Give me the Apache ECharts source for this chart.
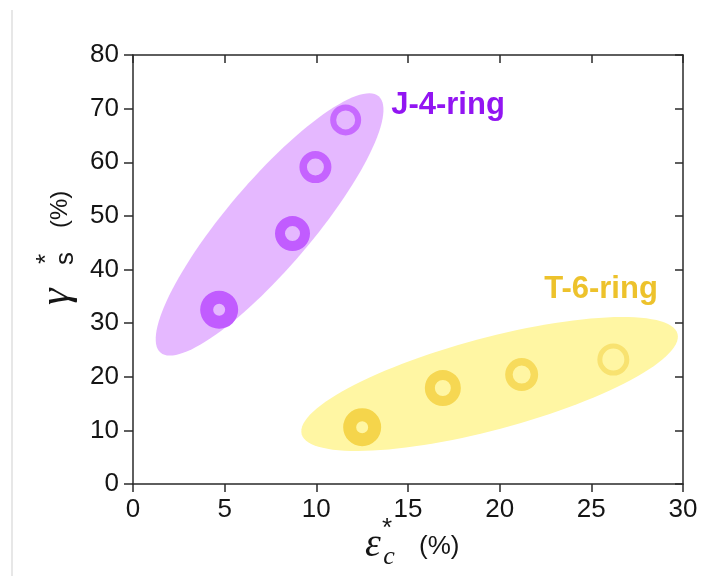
<!DOCTYPE html>
<html><head><meta charset="utf-8">
<script src="https://cdn.jsdelivr.net/npm/echarts@6/dist/echarts.min.js"></script>
<style>html,body{margin:0;padding:0;background:#fff}#c{width:711px;height:576px}</style>
</head><body><div id="c"></div>
<script>
// ---- data ----
const xTicks = [0, 5, 10, 15, 20, 25, 30];
const yTicks = [0, 10, 20, 30, 40, 50, 60, 70, 80];
const j4X = [4.7, 8.7, 9.95, 11.6];
const j4Y = [32.5, 46.7, 59.1, 67.9];
const t6X = [12.5, 16.9, 21.2, 26.2];
const t6Y = [10.6, 17.9, 20.4, 23.2];
const groupNames = ['J-4-ring', 'T-6-ring'];
// envelope ellipses: long-axis end points (data units)
const j4EnvX = [1.5, 13.4];
const j4EnvY = [24.5, 72.3];
const t6EnvX = [9.2, 29.7];
const t6EnvY = [9.3, 28.0];

// ---- styles ----
const purpleRing = {outer: [19, 17.5, 16, 15.5], inner: [6, 7.5, 8.5, 9.5], color: ['#c15cff', '#c15cff', '#c563ff', '#c76aff']};
const yellowRing = {outer: [19, 18, 16.5, 16], inner: [6, 8, 9, 11], color: ['#f5d54b', '#f6d752', '#f7db5c', '#f8e270']};

function ellipseItem(halfW, color) {
  return function (params, api) {
    const p0 = api.coord([api.value(0), api.value(1)]);
    const p1 = api.coord([api.value(2), api.value(3)]);
    const cx = (p0[0] + p1[0]) / 2, cy = (p0[1] + p1[1]) / 2;
    const dx = p1[0] - p0[0], dy = p1[1] - p0[1];
    const len = Math.hypot(dx, dy);
    const L = len / 2, ux = dx / len, uy = dy / len;
    const pts = [];
    for (let i = 0; i < 120; i++) {
      const t = i / 120 * Math.PI * 2;
      const a = L * Math.cos(t), b = halfW * Math.sin(t);
      pts.push([cx + a * ux - b * uy, cy + a * uy + b * ux]);
    }
    return {type: 'polygon', shape: {points: pts}, style: {fill: color}};
  };
}
function ringItem(st) {
  return function (params, api) {
    const p = api.coord([api.value(0), api.value(1)]);
    const i = params.dataIndex;
    return {type: 'ring', shape: {cx: p[0], cy: p[1], r: st.outer[i], r0: st.inner[i]}, style: {fill: st.color[i]}};
  };
}

const axisLineStyle = {color: '#2a2a2a', width: 1.5};
const labelFont = {fontFamily: 'Liberation Sans', fontSize: 26, color: '#151515'};

const chart = echarts.init(document.getElementById('c'), null, {renderer: 'canvas'});
chart.setOption({
  backgroundColor: '#ffffff',
  animation: false,
  grid: {left: 133, right: 28, top: 55, bottom: 92},
  xAxis: [
    {type: 'value', position: 'bottom', min: xTicks[0], max: xTicks[xTicks.length - 1], interval: 5,
     axisLine: {show: true, onZero: false, lineStyle: axisLineStyle}, axisTick: {show: true, length: 8, lineStyle: axisLineStyle},
     axisLabel: Object.assign({margin: 13}, labelFont), splitLine: {show: false}},
    {type: 'value', position: 'top', min: xTicks[0], max: xTicks[xTicks.length - 1], interval: 5,
     axisLine: {show: true, onZero: false, lineStyle: axisLineStyle}, axisTick: {show: true, inside: true, length: 8, lineStyle: axisLineStyle},
     axisLabel: {show: false}, splitLine: {show: false}}
  ],
  yAxis: [
    {type: 'value', position: 'left', min: yTicks[0], max: yTicks[yTicks.length - 1], interval: 10,
     axisLine: {show: true, onZero: false, lineStyle: axisLineStyle}, axisTick: {show: true, length: 9, lineStyle: axisLineStyle},
     axisLabel: Object.assign({margin: 14}, labelFont), splitLine: {show: false}},
    {type: 'value', position: 'right', min: yTicks[0], max: yTicks[yTicks.length - 1], interval: 10,
     axisLine: {show: true, onZero: false, lineStyle: axisLineStyle}, axisTick: {show: true, inside: true, length: 8, lineStyle: axisLineStyle},
     axisLabel: {show: false}, splitLine: {show: false}}
  ],
  series: [
    {type: 'custom', name: groupNames[0] + ' envelope', renderItem: ellipseItem(43, '#e5b8ff'), silent: true, z: 1,
     data: [[j4EnvX[0], j4EnvY[0], j4EnvX[1], j4EnvY[1]]]},
    {type: 'custom', name: groupNames[1] + ' envelope', renderItem: ellipseItem(46, '#fff6a3'), silent: true, z: 1,
     data: [[t6EnvX[0], t6EnvY[0], t6EnvX[1], t6EnvY[1]]]},
    {type: 'custom', name: groupNames[0], renderItem: ringItem(purpleRing), z: 2,
     data: j4X.map((x, i) => [x, j4Y[i]])},
    {type: 'custom', name: groupNames[1], renderItem: ringItem(yellowRing), z: 2,
     data: t6X.map((x, i) => [x, t6Y[i]])}
  ],
  graphic: [
    {type: 'line', shape: {x1: 12, y1: 10, x2: 12, y2: 576}, style: {stroke: '#cfcfcf', lineWidth: 1}, silent: true},
    {type: 'text', x: 448, y: 105, style: {text: groupNames[0], font: 'bold 31px "Liberation Sans"', fill: '#9215f2', textAlign: 'center', textVerticalAlign: 'middle'}},
    {type: 'text', x: 601, y: 289, style: {text: groupNames[1], font: 'bold 31px "Liberation Sans"', fill: '#edc22c', textAlign: 'center', textVerticalAlign: 'middle'}},
    // x-axis title
    {type: 'text', x: 373, y: 545, style: {text: 'ε', font: 'italic 40px "Liberation Serif"', fill: '#151515', textAlign: 'center', textVerticalAlign: 'middle'}},
    {type: 'text', x: 389, y: 557, style: {text: 'c', font: 'italic 26px "Liberation Serif"', fill: '#151515', textAlign: 'center', textVerticalAlign: 'middle'}},
    {type: 'text', x: 387, y: 529, style: {text: '*', font: '26px "Liberation Sans"', fill: '#151515', textAlign: 'center', textVerticalAlign: 'middle'}},
    {type: 'text', x: 419, y: 547, style: {text: '(%)', font: '26px "Liberation Sans"', fill: '#151515', textAlign: 'left', textVerticalAlign: 'middle'}},
    // y-axis title (rotated)
    {type: 'group', x: 57, y: 305, rotation: Math.PI / 2, children: [
      {type: 'text', x: 0, y: 0, style: {text: 'γ', font: 'italic 42px "Liberation Serif"', fill: '#151515', textAlign: 'left', textVerticalAlign: 'middle'}},
      {type: 'text', x: 40, y: 9, style: {text: 's', font: '26px "Liberation Sans"', fill: '#151515', textAlign: 'left', textVerticalAlign: 'middle'}},
      {type: 'text', x: 41, y: -10, style: {text: '*', font: '26px "Liberation Sans"', fill: '#151515', textAlign: 'left', textVerticalAlign: 'middle'}},
      {type: 'text', x: 77, y: 3, style: {text: '(%)', font: '24px "Liberation Sans"', fill: '#151515', textAlign: 'left', textVerticalAlign: 'middle'}}
    ]}
  ]
});
</script>
</body></html>
